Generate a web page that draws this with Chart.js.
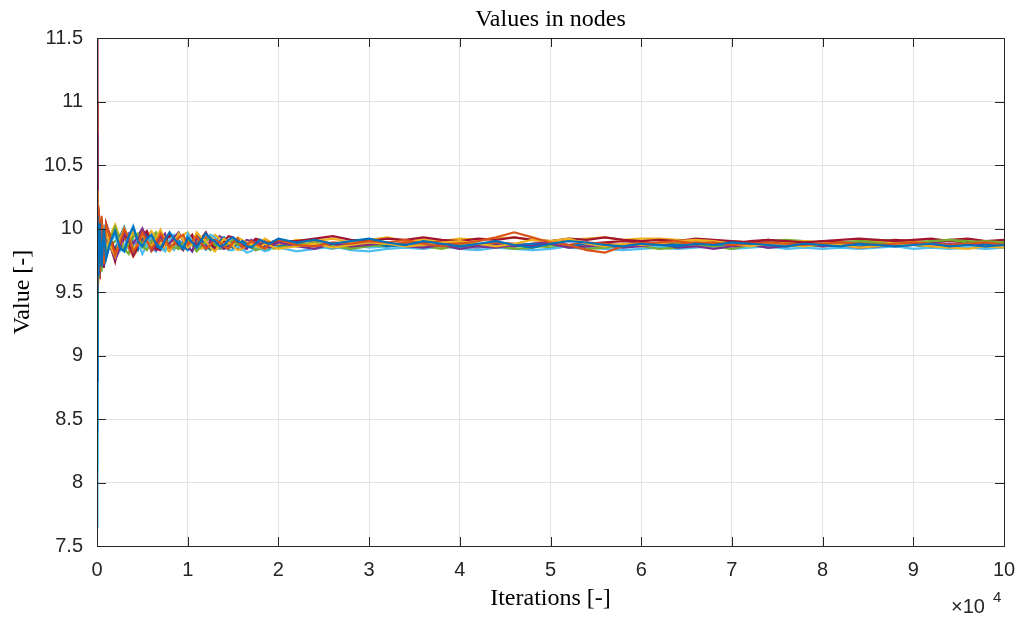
<!DOCTYPE html>
<html>
<head>
<meta charset="utf-8">
<title>Values in nodes</title>
<script src="https://cdn.jsdelivr.net/npm/chart.js@4.4.1/dist/chart.umd.min.js"></script>
<style>
    html, body { margin: 0; padding: 0; background: #ffffff; }
    #contenedor { width: 1016px; height: 617px; }
</style>
</head>
<body>
<div id="contenedor"><canvas id="grafica-nodos"></canvas></div>
<script>
var iterations = [
    0, 50, 150, 300, 500, 750,
    1000, 1500, 2000, 2500, 3000, 3500, 4000, 4500, 5000, 5500,
    6000, 6500, 7000, 7500, 8000, 8500, 9000, 9500, 10000, 10500,
    11000, 11500, 12000, 12500, 13000, 13500, 14000, 14500, 15000, 15500,
    16000, 16500, 17000, 17500, 18000, 18500, 19000, 19500, 20000,
    22000, 24000, 26000, 28000, 30000, 32000, 34000, 36000, 38000, 40000,
    42000, 44000, 46000, 48000, 50000, 52000, 54000, 56000, 58000, 60000,
    62000, 64000, 66000, 68000, 70000, 72000, 74000, 76000, 78000, 80000,
    82000, 84000, 86000, 88000, 90000, 92000, 94000, 96000, 98000, 100000
];

var node01 = [
    8.80, 10.10, 9.62, 10.04, 9.70, 10.00,
    9.76, 9.90, 9.98, 9.85, 9.82, 9.94, 10.01, 9.90, 9.86, 9.92,
    9.95, 9.88, 9.84, 9.91, 9.97, 9.92, 9.88, 9.84, 9.93, 9.89,
    9.85, 9.91, 9.96, 9.92, 9.90, 9.86, 9.87, 9.91, 9.93, 9.90,
    9.89, 9.86, 9.85, 9.88, 9.91, 9.89, 9.88, 9.90, 9.92,
    9.89, 9.91, 9.88, 9.90, 9.92, 9.89, 9.87, 9.90, 9.88, 9.86,
    9.88, 9.90, 9.87, 9.85, 9.88, 9.90, 9.89, 9.87, 9.86, 9.88,
    9.87, 9.86, 9.88, 9.87, 9.89, 9.88, 9.87, 9.86, 9.88, 9.87,
    9.86, 9.88, 9.87, 9.86, 9.87, 9.88, 9.86, 9.87, 9.86, 9.87
];
var node02 = [
    9.55, 9.70, 10.18, 9.66, 10.08, 9.72,
    10.03, 9.92, 9.79, 9.88, 9.99, 9.93, 9.82, 9.87, 9.97, 9.90,
    9.84, 9.89, 9.96, 9.91, 9.85, 9.88, 9.93, 9.95, 9.87, 9.90,
    9.94, 9.88, 9.84, 9.87, 9.91, 9.89, 9.86, 9.84, 9.89, 9.92,
    9.85, 9.87, 9.90, 9.88, 9.86, 9.84, 9.88, 9.90, 9.91,
    9.87, 9.86, 9.89, 9.88, 9.90, 9.89, 9.91, 9.88, 9.86, 9.88,
    9.90, 9.93, 9.97, 9.93, 9.89, 9.87, 9.83, 9.81, 9.86, 9.88,
    9.89, 9.90, 9.88, 9.89, 9.87, 9.88, 9.89, 9.88, 9.87, 9.88,
    9.89, 9.88, 9.87, 9.88, 9.89, 9.88, 9.87, 9.88, 9.89, 9.87
];
var node03 = [
    10.30, 9.58, 10.10, 9.68, 10.04, 9.74,
    9.98, 9.86, 9.78, 9.91, 10.00, 9.93, 9.84, 9.88, 9.95, 9.90,
    9.86, 9.92, 9.99, 9.90, 9.83, 9.89, 9.96, 9.91, 9.85, 9.88,
    9.97, 9.93, 9.90, 9.85, 9.82, 9.87, 9.92, 9.89, 9.86, 9.83,
    9.84, 9.87, 9.88, 9.86, 9.85, 9.88, 9.87, 9.85, 9.84,
    9.86, 9.88, 9.85, 9.87, 9.89, 9.88, 9.86, 9.87, 9.89, 9.90,
    9.88, 9.86, 9.88, 9.91, 9.90, 9.92, 9.88, 9.86, 9.88, 9.87,
    9.88, 9.90, 9.91, 9.90, 9.88, 9.86, 9.88, 9.87, 9.86, 9.88,
    9.87, 9.85, 9.86, 9.88, 9.87, 9.86, 9.85, 9.84, 9.86, 9.85
];
var node04 = [
    10.75, 9.52, 10.15, 9.64, 10.06, 9.71,
    10.01, 9.88, 9.77, 9.84, 9.97, 9.92, 9.81, 9.90, 9.99, 9.91,
    9.83, 9.87, 9.95, 9.89, 9.88, 9.93, 9.97, 9.90, 9.86, 9.82,
    9.93, 9.88, 9.85, 9.90, 9.91, 9.87, 9.84, 9.86, 9.89, 9.92,
    9.86, 9.84, 9.91, 9.89, 9.88, 9.86, 9.85, 9.87, 9.89,
    9.86, 9.84, 9.88, 9.86, 9.87, 9.89, 9.86, 9.85, 9.87, 9.84,
    9.86, 9.85, 9.87, 9.86, 9.88, 9.85, 9.86, 9.87, 9.85, 9.86,
    9.88, 9.85, 9.86, 9.84, 9.86, 9.87, 9.85, 9.86, 9.88, 9.86,
    9.87, 9.85, 9.86, 9.87, 9.88, 9.86, 9.87, 9.88, 9.86, 9.87
];
var node05 = [
    9.30, 10.05, 9.60, 10.02, 9.75, 9.97,
    9.78, 9.92, 10.01, 9.90, 9.83, 9.88, 9.93, 9.96, 9.86, 9.83,
    9.90, 9.94, 9.98, 9.91, 9.88, 9.85, 9.84, 9.89, 9.92, 9.87,
    9.82, 9.86, 9.90, 9.93, 9.87, 9.85, 9.84, 9.88, 9.91, 9.87,
    9.89, 9.86, 9.86, 9.83, 9.84, 9.87, 9.87, 9.84, 9.85,
    9.87, 9.89, 9.86, 9.84, 9.86, 9.88, 9.87, 9.86, 9.84, 9.87,
    9.88, 9.86, 9.84, 9.85, 9.87, 9.86, 9.84, 9.85, 9.87, 9.86,
    9.84, 9.85, 9.87, 9.86, 9.84, 9.87, 9.87, 9.88, 9.87, 9.86,
    9.88, 9.90, 9.89, 9.87, 9.88, 9.90, 9.91, 9.89, 9.90, 9.89
];
var node06 = [
    7.65, 10.08, 9.66, 9.94, 9.76, 10.00,
    9.81, 9.89, 9.95, 9.82, 9.86, 9.94, 10.02, 9.90, 9.80, 9.87,
    9.94, 9.88, 9.85, 9.82, 9.91, 9.95, 9.88, 9.84, 9.96, 9.90,
    9.84, 9.87, 9.89, 9.95, 9.93, 9.88, 9.86, 9.83, 9.83, 9.86,
    9.84, 9.81, 9.82, 9.85, 9.84, 9.82, 9.83, 9.86, 9.85,
    9.82, 9.84, 9.86, 9.83, 9.82, 9.84, 9.85, 9.84, 9.86, 9.84,
    9.83, 9.85, 9.84, 9.83, 9.84, 9.86, 9.85, 9.84, 9.83, 9.84,
    9.85, 9.84, 9.85, 9.86, 9.84, 9.85, 9.86, 9.84, 9.85, 9.84,
    9.85, 9.84, 9.85, 9.86, 9.84, 9.85, 9.84, 9.85, 9.84, 9.85
];
var node07 = [
    11.50, 9.60, 10.12, 9.70, 9.98, 9.73,
    10.04, 9.93, 9.82, 9.87, 9.96, 9.89, 9.79, 9.86, 9.94, 9.98,
    9.88, 9.84, 9.83, 9.90, 9.95, 9.92, 9.87, 9.84, 9.91, 9.95,
    9.86, 9.92, 9.97, 9.90, 9.84, 9.87, 9.90, 9.94, 9.93, 9.89,
    9.87, 9.85, 9.89, 9.92, 9.91, 9.88, 9.87, 9.89, 9.90,
    9.90, 9.92, 9.94, 9.91, 9.90, 9.92, 9.91, 9.93, 9.91, 9.90,
    9.92, 9.91, 9.93, 9.91, 9.90, 9.92, 9.91, 9.93, 9.91, 9.90,
    9.91, 9.90, 9.92, 9.91, 9.90, 9.89, 9.91, 9.90, 9.89, 9.90,
    9.91, 9.92, 9.91, 9.90, 9.91, 9.92, 9.90, 9.89, 9.90, 9.91
];
var node08 = [
    8.40, 9.65, 10.06, 9.72, 9.96, 9.80,
    9.95, 9.88, 9.84, 9.93, 10.01, 9.91, 9.86, 9.83, 9.92, 9.95,
    9.89, 9.86, 9.84, 9.90, 9.96, 9.93, 9.90, 9.86, 9.83, 9.89,
    9.95, 9.91, 9.88, 9.84, 9.86, 9.90, 9.93, 9.89, 9.85, 9.87,
    9.90, 9.88, 9.87, 9.84, 9.85, 9.87, 9.88, 9.85, 9.86,
    9.88, 9.87, 9.85, 9.87, 9.89, 9.86, 9.87, 9.85, 9.87, 9.86,
    9.88, 9.86, 9.87, 9.88, 9.87, 9.86, 9.88, 9.87, 9.86, 9.87,
    9.88, 9.87, 9.86, 9.87, 9.88, 9.87, 9.85, 9.86, 9.87, 9.88,
    9.87, 9.86, 9.87, 9.88, 9.87, 9.85, 9.86, 9.87, 9.88, 9.87
];
var node09 = [
    11.00, 9.56, 9.98, 9.62, 10.10, 9.76,
    9.93, 9.86, 9.81, 9.89, 9.94, 9.85, 9.78, 9.84, 9.90, 9.93,
    9.82, 9.86, 9.91, 9.88, 9.83, 9.87, 9.90, 9.85, 9.88, 9.92,
    9.84, 9.89, 9.93, 9.91, 9.89, 9.85, 9.87, 9.90, 9.84, 9.86,
    9.90, 9.88, 9.85, 9.83, 9.87, 9.89, 9.89, 9.87, 9.86,
    9.89, 9.91, 9.88, 9.86, 9.88, 9.87, 9.89, 9.88, 9.90, 9.88,
    9.87, 9.89, 9.88, 9.86, 9.88, 9.87, 9.89, 9.88, 9.87, 9.89,
    9.88, 9.87, 9.89, 9.88, 9.87, 9.89, 9.88, 9.86, 9.87, 9.88,
    9.87, 9.89, 9.88, 9.86, 9.87, 9.88, 9.87, 9.88, 9.86, 9.88
];
var node10 = [
    9.90, 10.20, 9.57, 10.04, 9.74, 9.96,
    9.82, 9.95, 10.03, 9.93, 9.85, 9.90, 9.98, 9.91, 9.87, 9.94,
    9.98, 9.92, 9.88, 9.85, 9.82, 9.87, 9.92, 9.95, 9.97, 9.91,
    9.88, 9.84, 9.86, 9.90, 9.95, 9.92, 9.89, 9.86, 9.87, 9.93,
    9.91, 9.89, 9.88, 9.86, 9.89, 9.92, 9.90, 9.88, 9.87,
    9.91, 9.90, 9.92, 9.89, 9.91, 9.93, 9.90, 9.91, 9.90, 9.92,
    9.91, 9.92, 9.93, 9.91, 9.90, 9.91, 9.92, 9.93, 9.91, 9.92,
    9.92, 9.91, 9.90, 9.89, 9.90, 9.89, 9.88, 9.89, 9.90, 9.89,
    9.88, 9.89, 9.90, 9.89, 9.90, 9.88, 9.87, 9.88, 9.86, 9.88
];
var node11 = [
    10.50, 9.54, 10.14, 9.70, 10.00, 9.80,
    9.99, 9.85, 9.76, 9.83, 9.92, 9.96, 9.88, 9.94, 10.00, 9.92,
    9.86, 9.83, 9.92, 9.96, 9.84, 9.88, 9.89, 9.85, 9.93, 9.90,
    9.87, 9.91, 9.84, 9.86, 9.89, 9.94, 9.92, 9.88, 9.86, 9.84,
    9.88, 9.91, 9.90, 9.86, 9.87, 9.90, 9.89, 9.86, 9.86,
    9.88, 9.87, 9.86, 9.88, 9.89, 9.87, 9.88, 9.86, 9.88, 9.89,
    9.87, 9.88, 9.86, 9.88, 9.89, 9.87, 9.88, 9.86, 9.87, 9.89,
    9.88, 9.87, 9.88, 9.89, 9.87, 9.88, 9.89, 9.87, 9.88, 9.89,
    9.87, 9.88, 9.89, 9.88, 9.87, 9.89, 9.88, 9.87, 9.89, 9.87
];
var node12 = [
    9.05, 9.92, 9.68, 10.08, 9.66, 9.99,
    9.82, 9.87, 9.90, 9.95, 9.84, 9.80, 9.97, 9.91, 9.85, 9.88,
    9.93, 9.97, 9.86, 9.83, 9.90, 9.94, 9.84, 9.86, 9.89, 9.93,
    9.91, 9.88, 9.86, 9.83, 9.90, 9.88, 9.86, 9.84, 9.88, 9.91,
    9.86, 9.88, 9.87, 9.85, 9.86, 9.83, 9.84, 9.86, 9.87,
    9.86, 9.88, 9.87, 9.85, 9.87, 9.86, 9.88, 9.87, 9.86, 9.85,
    9.87, 9.85, 9.86, 9.87, 9.85, 9.86, 9.87, 9.88, 9.86, 9.87,
    9.88, 9.89, 9.88, 9.87, 9.88, 9.89, 9.90, 9.91, 9.90, 9.88,
    9.89, 9.90, 9.91, 9.90, 9.89, 9.90, 9.91, 9.90, 9.89, 9.90
];
var node13 = [
    8.10, 9.80, 9.70, 9.96, 9.68, 10.03,
    9.77, 9.90, 9.97, 9.88, 9.82, 9.86, 9.91, 9.84, 9.88, 9.93,
    9.85, 9.82, 9.93, 9.89, 9.86, 9.83, 9.91, 9.88, 9.85, 9.82,
    9.89, 9.86, 9.83, 9.87, 9.88, 9.84, 9.85, 9.88, 9.86, 9.84,
    9.83, 9.85, 9.86, 9.83, 9.84, 9.86, 9.87, 9.86, 9.85,
    9.87, 9.86, 9.84, 9.87, 9.85, 9.86, 9.87, 9.88, 9.86, 9.87,
    9.85, 9.87, 9.88, 9.86, 9.87, 9.85, 9.84, 9.86, 9.85, 9.87,
    9.86, 9.87, 9.88, 9.86, 9.87, 9.88, 9.86, 9.87, 9.88, 9.87,
    9.86, 9.88, 9.87, 9.86, 9.87, 9.88, 9.86, 9.87, 9.86, 9.85
];
var node14 = [
    10.20, 9.62, 10.16, 9.60, 10.07, 9.69,
    10.02, 9.86, 9.74, 9.90, 9.98, 9.88, 9.79, 9.85, 9.93, 9.97,
    9.90, 9.84, 9.85, 9.91, 9.94, 9.89, 9.86, 9.83, 9.92, 9.88,
    9.85, 9.88, 9.90, 9.93, 9.87, 9.84, 9.85, 9.89, 9.90, 9.87,
    9.86, 9.84, 9.88, 9.91, 9.86, 9.88, 9.88, 9.90, 9.90,
    9.89, 9.87, 9.86, 9.88, 9.90, 9.88, 9.87, 9.89, 9.87, 9.86,
    9.85, 9.87, 9.86, 9.88, 9.89, 9.87, 9.88, 9.89, 9.90, 9.89,
    9.88, 9.89, 9.90, 9.89, 9.88, 9.90, 9.91, 9.89, 9.88, 9.90,
    9.89, 9.88, 9.90, 9.91, 9.90, 9.89, 9.91, 9.92, 9.90, 9.89
];

var xTicks = [0, 10000, 20000, 30000, 40000, 50000, 60000, 70000, 80000, 90000, 100000];
var yTicks = [7.5, 8, 8.5, 9, 9.5, 10, 10.5, 11, 11.5];

// MATLAB default line colour order
var colorOrder = ['#0072BD', '#D95319', '#EDB120', '#7E2F8E', '#77AC30', '#4DBEEE', '#A2142F'];

var nodes = [node01, node02, node03, node04, node05, node06, node07,
             node08, node09, node10, node11, node12, node13, node14];

var datos = {
    datasets: nodes.map(function (serie, n) {
        return {
            label: 'Node ' + (n + 1),
            data: serie.map(function (v, i) { return { x: iterations[i], y: v }; }),
            borderColor: colorOrder[n % colorOrder.length],
            backgroundColor: colorOrder[n % colorOrder.length],
            borderWidth: 2.2,
            pointRadius: 0,
            fill: false,
            tension: 0
        };
    })
};

var textColor = '#262626';
var sansFont = "'Liberation Sans', Arial, Helvetica, sans-serif";
var serifFont = "'Liberation Serif', 'Times New Roman', serif";

// Box round the axes, inward ticks on all four sides and the x10^4 exponent
var matlabAxes = {
    id: 'matlabAxes',
    afterDatasetsDraw: function (chart) {
        var ctx = chart.ctx;
        var a = chart.chartArea;
        var xs = chart.scales.x, ys = chart.scales.y;
        var len = 9;
        ctx.save();
        ctx.strokeStyle = textColor;
        ctx.lineWidth = 1;
        ctx.beginPath();
        xTicks.forEach(function (t) {
            var px = Math.round(xs.getPixelForValue(t)) + 0.5;
            ctx.moveTo(px, a.bottom); ctx.lineTo(px, a.bottom - len);
            ctx.moveTo(px, a.top); ctx.lineTo(px, a.top + len);
        });
        yTicks.forEach(function (t) {
            var py = Math.round(ys.getPixelForValue(t)) + 0.5;
            ctx.moveTo(a.left, py); ctx.lineTo(a.left + len, py);
            ctx.moveTo(a.right, py); ctx.lineTo(a.right - len, py);
        });
        ctx.stroke();
        ctx.strokeRect(Math.round(a.left) + 0.5, Math.round(a.top) + 0.5,
            Math.round(a.right - a.left), Math.round(a.bottom - a.top));
        ctx.restore();
    },
    afterDraw: function (chart) {
        var ctx = chart.ctx;
        ctx.save();
        ctx.fillStyle = textColor;
        ctx.textBaseline = 'middle';
        ctx.textAlign = 'left';
        ctx.font = '20px ' + sansFont;
        ctx.fillText('\u00d710', 951, 607);
        ctx.font = '15px ' + sansFont;
        ctx.fillText('4', 993, 598);
        ctx.restore();
    }
};

var opciones = {
    responsive: true,
    maintainAspectRatio: false,
    animation: false,
    devicePixelRatio: 1,
    layout: { padding: { left: 0, right: 12, top: 0, bottom: 0 } },
    plugins: {
        legend: { display: false },
        tooltip: { enabled: false },
        title: {
            display: true,
            fullSize: false,
            text: 'Values in nodes',
            color: '#000000',
            font: { family: serifFont, size: 24, weight: 'normal', lineHeight: 1.2 },
            padding: { top: 5, bottom: 4.2 }
        }
    },
    scales: {
        x: {
            type: 'linear',
            min: 0,
            max: 100000,
            afterFit: function (scale) {
                scale.height = 71;
                scale.paddingLeft = 0;   // no extra room for the end labels
                scale.paddingRight = 0;
            },
            afterBuildTicks: function (scale) {
                scale.ticks = xTicks.map(function (v) { return { value: v }; });
            },
            ticks: {
                color: textColor,
                font: { family: sansFont, size: 20 },
                padding: 12,
                maxRotation: 0,
                autoSkip: false,
                callback: function (v) { return String(v / 10000); }
            },
            grid: { color: '#e3e3e3', drawTicks: false },
            border: { display: false },
            title: {
                display: true,
                text: 'Iterations [-]',
                color: '#000000',
                font: { family: serifFont, size: 24, lineHeight: 1.2 },
                padding: { top: 0, bottom: 3.6 }
            }
        },
        y: {
            min: 7.5,
            max: 11.5,
            afterFit: function (scale) {
                scale.width = 97;
                scale.paddingTop = 0;
                scale.paddingBottom = 0;
            },
            afterBuildTicks: function (scale) {
                scale.ticks = yTicks.map(function (v) { return { value: v }; });
            },
            ticks: {
                color: textColor,
                font: { family: sansFont, size: 20 },
                padding: 14,
                autoSkip: false,
                callback: function (v) { return String(v); }
            },
            grid: { color: '#e3e3e3', drawTicks: false },
            border: { display: false },
            title: {
                display: true,
                text: 'Value [-]',
                color: '#000000',
                font: { family: serifFont, size: 24, lineHeight: 1.2 },
                padding: { top: 8.6, bottom: 0 }
            }
        }
    }
};

var ctx = document.getElementById('grafica-nodos').getContext('2d');
var grafica = new Chart(ctx, {
    type: 'line',
    data: datos,
    options: opciones,
    plugins: [matlabAxes]
});
</script>
</body>
</html>
